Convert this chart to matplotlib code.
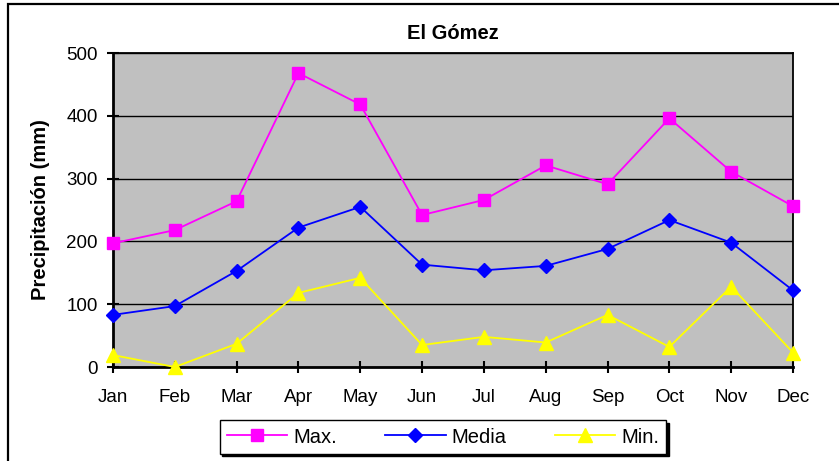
import matplotlib
matplotlib.use("Agg")
import matplotlib.pyplot as plt
from matplotlib.patches import Rectangle

# ── data ──────────────────────────────────────────────────────────────────────
months = ["Jan", "Feb", "Mar", "Apr", "May", "Jun",
          "Jul", "Aug", "Sep", "Oct", "Nov", "Dec"]
precip_max   = [197, 218, 264, 468, 418, 242, 266, 321, 291, 396, 311, 256]
precip_media = [83, 97, 153, 222, 255, 163, 154, 161, 188, 234, 198, 122]
precip_min   = [19, 0, 37, 118, 142, 35, 48, 39, 83, 32, 128, 23]

plt.rcParams["font.family"] = ["Liberation Sans", "DejaVu Sans"]

W, H = 839, 461
fig = plt.figure(figsize=(W / 100, H / 100), dpi=100)
ax = fig.add_axes([113 / W, 1 - 367 / H, 680 / W, 314 / H])

# outer chart frame (cut off at right/bottom)
fig.patches.append(Rectangle((8 / W, -0.1), 1.2, 1.1 - 4 / H,
                             transform=fig.transFigure, fill=False,
                             edgecolor="black", linewidth=1.6, zorder=0))

ax.set_facecolor("#C0C0C0")
x = list(range(len(months)))

ax.plot(x, precip_max, color="#FF00FF", marker="s", markersize=8,
        linewidth=1.3, label="Max.", clip_on=False, zorder=4)
ax.plot(x, precip_media, color="#0000FF", marker="D", markersize=7.5,
        linewidth=1.3, label="Media", clip_on=False, zorder=4)
ax.plot(x, precip_min, color="#FFFF00", marker="^", markersize=9.5,
        linewidth=1.3, label="Min.", clip_on=False, zorder=4)

ax.set_xlim(0, 11)
ax.set_ylim(0, 500)
ax.set_yticks(range(0, 501, 100))
ax.set_xticks(x)
ax.set_xticklabels(months)
ax.yaxis.grid(True, color="black", linewidth=1.0, zorder=1)
ax.set_axisbelow(True)

for s in ["left", "bottom"]:
    ax.spines[s].set_linewidth(2.0)
for s in ["top", "right"]:
    ax.spines[s].set_linewidth(1.3)

ax.tick_params(axis="both", labelsize=13.5, width=1.5, length=8,
               direction="inout", colors="black")
ax.tick_params(axis="x", pad=12)
ax.tick_params(axis="y", pad=7)

ax.set_title("El Gómez", fontsize=14.5, fontweight="bold", pad=10)
ax.set_ylabel("Precipitación (mm)", fontsize=14.5, fontweight="bold")
ax.yaxis.set_label_coords(-0.092, 0.5)

leg = fig.legend(loc="center", bbox_to_anchor=(443 / W, 1 - 437 / H), ncol=3,
                 fontsize=14.5, frameon=True, fancybox=False,
                 shadow={"color": "black", "alpha": 1.0},
                 handlelength=3.0, handletextpad=0.3, columnspacing=2.4,
                 borderpad=0.35)
leg.get_frame().set_edgecolor("black")
leg.get_frame().set_linewidth(1.0)

fig.savefig("out.png", dpi=100)
